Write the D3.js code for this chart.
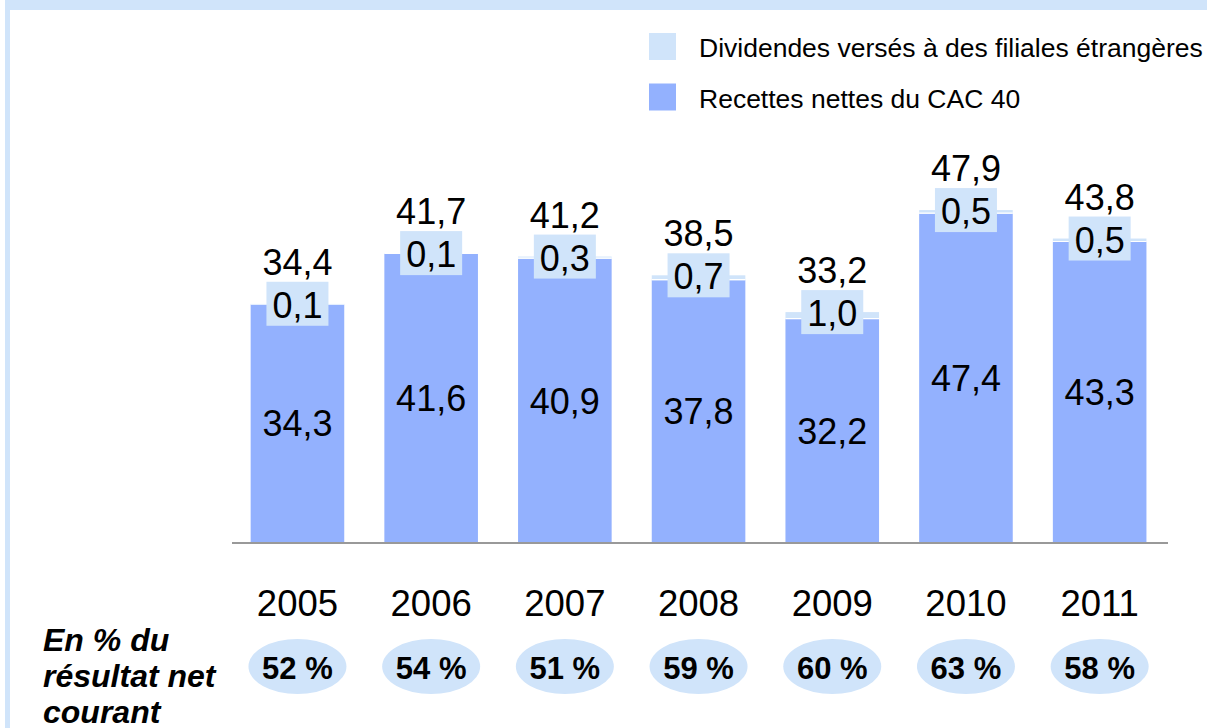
<!DOCTYPE html>
<html>
<head>
<meta charset="utf-8">
<script src="https://cdn.jsdelivr.net/npm/d3@7"></script>
<style>
  body { margin: 0; background: #fff; }
  svg { display: block; font-family: "Liberation Sans", Arial, sans-serif; }
</style>
</head>
<body>
<div id="chart"></div>
<script>
let years = ["2005", "2006", "2007", "2008", "2009", "2010", "2011"];
let recettes = [34.3, 41.6, 40.9, 37.8, 32.2, 47.4, 43.3];
let dividendes = [0.1, 0.1, 0.3, 0.7, 1.0, 0.5, 0.5];
let totals = [34.4, 41.7, 41.2, 38.5, 33.2, 47.9, 43.8];
let percents = ["52 %", "54 %", "51 %", "59 %", "60 %", "63 %", "58 %"];
let legendLabels = ["Dividendes versés à des filiales étrangères", "Recettes nettes du CAC 40"];

let dark = "#93b1fe";
let light = "#d0e4fa";

let fr = d3.formatLocale({decimal: ",", thousands: " ", grouping: [3], currency: ["", " €"]});
let fmt = fr.format(".1f");

function main(){
    let width = 1207;
    let height = 728;

    let svg = d3.select("#chart").append("svg")
        .attr("width", width)
        .attr("height", height);

    // frame
    svg.append("rect").attr("x", 5).attr("y", 0).attr("width", width - 5).attr("height", 10).attr("fill", light);
    svg.append("rect").attr("x", 5).attr("y", 0).attr("width", 5).attr("height", height).attr("fill", light);

    let xScale = d3.scaleBand().domain(years).range([230.6, 1166.5]).paddingInner(0.3).paddingOuter(0.15);
    let yScale = d3.scaleLinear().domain([0, 50]).range([542.5, 542.5 - 347]);

    let data = years.map(function(y, i){
        return {year: y, rec: recettes[i], div: dividendes[i], total: totals[i], pct: percents[i]};
    });

    let bars = svg.append("g").selectAll("g")
        .data(data)
        .enter()
        .append("g");

    // recettes
    bars.append("rect")
        .attr("x", d => xScale(d.year))
        .attr("y", d => yScale(d.rec))
        .attr("width", xScale.bandwidth())
        .attr("height", d => yScale(0) - yScale(d.rec))
        .attr("fill", dark);

    // dividendes
    bars.append("rect")
        .attr("x", d => xScale(d.year))
        .attr("y", d => yScale(d.rec + d.div))
        .attr("width", xScale.bandwidth())
        .attr("height", d => yScale(d.rec) - yScale(d.rec + d.div))
        .attr("fill", light);

    // separator line
    bars.append("line")
        .attr("x1", d => xScale(d.year))
        .attr("x2", d => xScale(d.year) + xScale.bandwidth())
        .attr("y1", d => yScale(d.rec) - 0.5)
        .attr("y2", d => yScale(d.rec) - 0.5)
        .attr("stroke", "#fff")
        .attr("stroke-width", 1.2);

    let cx = d => xScale(d.year) + xScale.bandwidth() / 2;

    // value inside
    bars.append("text")
        .attr("x", cx)
        .attr("y", d => (yScale(d.rec) + yScale(0)) / 2 + 13)
        .attr("text-anchor", "middle")
        .attr("font-size", 36)
        .attr("fill", "#000")
        .text(d => fmt(d.rec));

    // dividendes label box
    bars.append("rect")
        .attr("x", d => cx(d) - 31)
        .attr("y", d => yScale(d.total) - 22)
        .attr("width", 62)
        .attr("height", 44)
        .attr("fill", light);

    bars.append("text")
        .attr("x", cx)
        .attr("y", d => yScale(d.total) + 14)
        .attr("text-anchor", "middle")
        .attr("font-size", 36)
        .attr("fill", "#000")
        .text(d => fmt(d.div));

    // totals
    bars.append("text")
        .attr("x", cx)
        .attr("y", d => yScale(d.total) - 29)
        .attr("text-anchor", "middle")
        .attr("font-size", 36)
        .attr("fill", "#000")
        .text(d => fmt(d.total));

    // baseline
    svg.append("line")
        .attr("x1", 232).attr("x2", 1168)
        .attr("y1", yScale(0) + 0.5).attr("y2", yScale(0) + 0.5)
        .attr("stroke", "#999")
        .attr("stroke-width", 2);

    // years
    svg.append("g").selectAll("text")
        .data(data)
        .enter()
        .append("text")
        .attr("x", cx)
        .attr("y", 616)
        .attr("text-anchor", "middle")
        .attr("font-size", 36.5)
        .text(d => d.year);

    // percent ellipses
    let pg = svg.append("g").selectAll("g")
        .data(data)
        .enter()
        .append("g");

    pg.append("ellipse")
        .attr("cx", cx)
        .attr("cy", 666.5)
        .attr("rx", 49)
        .attr("ry", 27.5)
        .attr("fill", light);

    pg.append("text")
        .attr("x", cx)
        .attr("y", 679)
        .attr("text-anchor", "middle")
        .attr("font-size", 31)
        .attr("font-weight", "bold")
        .text(d => d.pct);

    // left label
    let side = svg.append("text")
        .attr("x", 43)
        .attr("font-size", 32)
        .attr("font-weight", "bold")
        .attr("font-style", "italic");
    ["En % du", "résultat net", "courant"].forEach(function(t, i){
        side.append("tspan").attr("x", 43).attr("y", 651 + i * 36).text(t);
    });

    // legend
    let legend = svg.append("g").selectAll("g")
        .data(legendLabels)
        .enter()
        .append("g")
        .attr("transform", (d, i) => "translate(649, " + (33 + i * 50.5) + ")");

    legend.append("rect")
        .attr("width", 27)
        .attr("height", 27)
        .attr("fill", (d, i) => i === 0 ? light : dark);

    legend.append("text")
        .attr("x", 50)
        .attr("y", 24)
        .attr("font-size", 26.5)
        .text(d => d);
}

main();
</script>
</body>
</html>
